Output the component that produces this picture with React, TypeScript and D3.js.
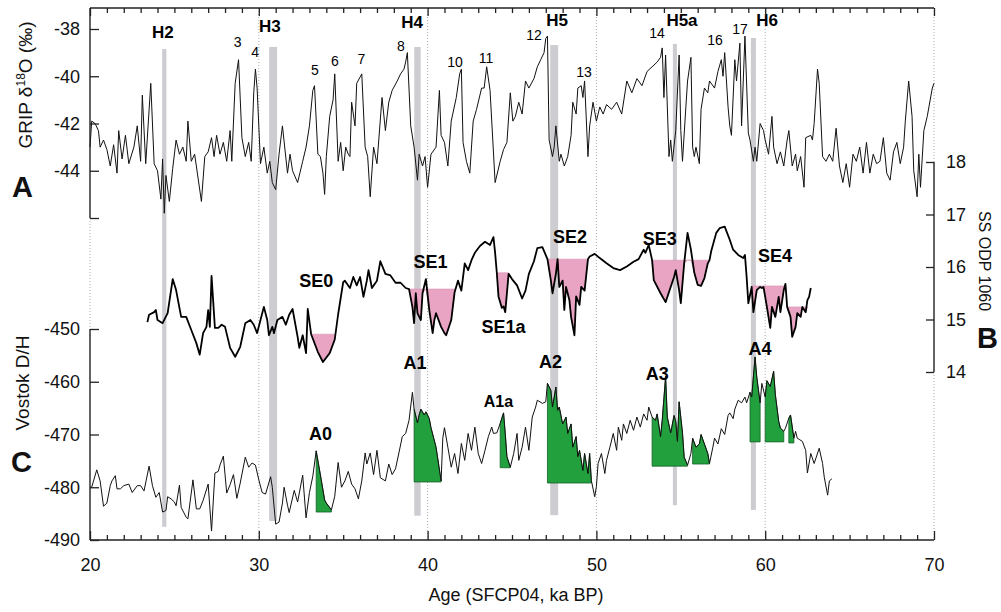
import React, { useEffect, useRef } from 'react';
import * as d3 from 'd3';

// GRIP d18O (permil) against age (ka BP)
const grip: [number, number][] = [
  [20.0,-43.0],[20.1,-41.9],[20.3,-42.0],[20.5,-42.3],[20.6,-43.0],[20.8,-42.7],[21.0,-43.1],[21.2,-43.8],[21.4,-42.9],[21.6,-44.1],
  [21.7,-42.3],[21.9,-43.5],[22.1,-42.5],[22.3,-43.7],[22.6,-43.0],[22.8,-42.1],[23.0,-43.6],[23.1,-40.8],[23.3,-43.7],[23.6,-40.3],
  [23.8,-43.7],[24.0,-44.0],[24.2,-45.2],[24.3,-43.5],[24.4,-45.8],[24.5,-44.2],[24.7,-45.3],[24.9,-43.9],[25.1,-42.7],[25.3,-43.3],
  [25.5,-43.0],[25.7,-43.6],[25.8,-41.9],[26.0,-43.6],[26.2,-43.3],[26.6,-45.3],[26.8,-43.4],[27.0,-43.2],[27.2,-42.6],[27.35,-43.4],
  [27.5,-42.5],[27.7,-43.3],[27.9,-42.8],[28.1,-43.6],[28.3,-42.3],[28.4,-43.6],[28.6,-40.3],[28.8,-39.3],[29.0,-42.6],[29.2,-43.4],
  [29.4,-42.8],[29.55,-43.6],[29.7,-40.7],[29.8,-39.7],[29.9,-40.5],[30.1,-43.7],[30.3,-43.0],[30.5,-44.1],[30.65,-43.6],[30.8,-44.5],
  [31.0,-44.8],[31.2,-43.3],[31.4,-42.1],[31.7,-44.1],[31.85,-43.3],[32.0,-44.0],[32.3,-44.5],[32.6,-43.6],[32.8,-43.0],[33.0,-42.1],
  [33.2,-40.6],[33.3,-40.4],[33.5,-43.3],[33.65,-43.4],[33.8,-44.1],[33.9,-45.0],[34.0,-43.4],[34.2,-41.7],[34.4,-41.0],[34.5,-39.9],
  [34.7,-43.6],[34.85,-42.8],[35.0,-44.0],[35.15,-43.0],[35.3,-43.3],[35.4,-43.4],[35.5,-41.1],[35.7,-42.1],[35.8,-40.3],[36.1,-39.9],
  [36.3,-43.0],[36.45,-43.4],[36.6,-45.1],[36.8,-43.0],[37.0,-43.7],[37.3,-40.9],[37.5,-42.3],[37.7,-41.1],[37.9,-40.6],[38.2,-40.2],
  [38.4,-39.9],[38.6,-39.7],[38.7,-39.4],[38.8,-39.0],[39.0,-42.1],[39.2,-43.0],[39.4,-44.4],[39.5,-43.3],[39.7,-43.8],[39.85,-43.4],
  [40.0,-44.7],[40.2,-43.3],[40.5,-43.0],[40.7,-40.6],[40.8,-42.5],[41.0,-42.8],[41.2,-43.8],[41.4,-41.9],[41.7,-40.9],[41.9,-39.9],
  [42.0,-39.7],[42.1,-42.8],[42.3,-43.6],[42.5,-44.1],[42.7,-41.9],[42.9,-41.4],[43.2,-40.5],[43.35,-40.5],[43.5,-39.6],[43.7,-40.6],
  [44.0,-44.5],[44.3,-43.6],[44.5,-43.1],[44.7,-42.8],[44.9,-40.7],[45.05,-41.9],[45.2,-41.7],[45.4,-41.1],[45.6,-41.6],[45.8,-40.2],
  [46.0,-40.5],[46.3,-40.1],[46.5,-39.6],[46.7,-39.3],[46.9,-39.0],[47.0,-38.4],[47.1,-38.3],[47.2,-42.7],[47.4,-43.4],[47.5,-43.0],
  [47.6,-42.1],[47.8,-43.6],[47.9,-43.3],[48.1,-43.8],[48.3,-43.4],[48.5,-42.5],[48.6,-41.1],[48.8,-41.6],[48.9,-40.5],[49.1,-40.4],
  [49.2,-40.9],[49.3,-40.2],[49.5,-43.4],[49.6,-42.1],[49.8,-41.1],[50.0,-41.9],[50.2,-41.3],[50.4,-41.6],[50.6,-41.2],[50.9,-41.4],
  [51.2,-41.1],[51.5,-41.6],[51.8,-40.2],[52.1,-40.7],[52.4,-40.1],[52.7,-40.4],[53.0,-39.8],[53.3,-39.6],[53.6,-39.4],[53.8,-39.2],
  [53.9,-38.8],[54.0,-40.9],[54.1,-39.1],[54.3,-43.4],[54.4,-42.7],[54.5,-43.6],[54.7,-42.3],[54.9,-39.1],[55.0,-42.3],[55.1,-43.6],
  [55.3,-41.3],[55.4,-40.2],[55.6,-39.2],[55.7,-43.0],[55.8,-43.4],[55.9,-43.0],[56.1,-43.7],[56.2,-41.4],[56.4,-40.5],[56.6,-40.7],
  [56.7,-40.2],[57.0,-40.5],[57.2,-39.8],[57.4,-39.3],[57.5,-40.0],[57.6,-39.0],[57.8,-41.3],[57.9,-42.1],[58.0,-42.5],[58.2,-39.3],
  [58.3,-40.2],[58.5,-38.6],[58.6,-42.1],[58.8,-38.3],[59.0,-42.4],[59.1,-42.7],[59.3,-43.6],[59.4,-43.0],[59.5,-43.6],[59.7,-42.0],
  [59.9,-42.3],[60.0,-42.7],[60.2,-43.3],[60.4,-41.7],[60.5,-43.0],[60.7,-43.7],[60.9,-43.2],[61.1,-43.8],[61.3,-42.7],[61.4,-42.3],
  [61.6,-43.8],[61.8,-43.3],[61.9,-44.0],[62.1,-43.4],[62.3,-44.7],[62.4,-42.6],[62.7,-42.5],[62.8,-42.7],[62.9,-42.0],[63.1,-39.7],
  [63.2,-40.3],[63.4,-43.4],[63.6,-43.6],[63.8,-43.3],[64.0,-43.6],[64.2,-42.2],[64.4,-43.8],[64.6,-44.5],[64.8,-43.7],[65.0,-44.7],
  [65.2,-43.3],[65.4,-43.6],[65.6,-43.0],[65.8,-44.1],[66.0,-42.8],[66.2,-44.1],[66.4,-43.3],[66.6,-43.7],[66.8,-43.6],[67.0,-42.6],
  [67.2,-44.1],[67.4,-44.4],[67.6,-43.2],[67.8,-42.8],[68.0,-43.7],[68.2,-43.0],[68.3,-41.9],[68.5,-40.2],[68.7,-41.7],[68.8,-44.0],
  [69.0,-45.1],[69.1,-43.3],[69.2,-44.7],[69.4,-42.3],[69.6,-41.7],[69.7,-41.3],[69.9,-40.5],[70.0,-40.3],
];

// SS ODP 1060 (panel B, right axis)
const ssOdp: [number, number][] = [
  [23.4,14.95],[23.5,15.09],[23.8,15.14],[23.9,15.18],[24.0,14.99],[24.3,14.93],[24.6,15.12],[24.9,15.77],[25.1,15.56],[25.4,15.05],
  [25.7,15.05],[26.0,14.8],[26.3,14.55],[26.5,14.33],[26.7,14.74],[26.9,14.86],[27.0,15.18],[27.1,14.86],[27.2,15.83],[27.4,14.84],
  [27.6,14.84],[27.8,14.9],[28.0,14.86],[28.3,14.46],[28.6,14.29],[28.9,14.48],[29.2,14.93],[29.5,14.99],[29.7,14.9],[29.9,14.74],
  [30.1,14.99],[30.3,15.24],[30.5,14.99],[30.6,14.7],[30.8,14.86],[30.9,14.74],[31.1,14.99],[31.4,15.05],[31.6,14.9],[31.8,15.09],
  [32.0,15.2],[32.3,14.67],[32.4,14.46],[32.6,14.7],[32.8,14.36],[32.9,15.2],[33.1,14.72],[33.5,14.38],[33.8,14.19],[34.2,14.36],
  [34.5,14.62],[34.7,15.1],[35.0,15.71],[35.1,15.74],[35.4,15.6],[35.6,15.81],[35.8,15.65],[36.0,15.81],[36.2,15.43],[36.4,15.74],
  [36.5,15.94],[36.7,15.6],[37.0,15.74],[37.2,16.11],[37.5,15.87],[37.8,15.84],[38.1,15.7],[38.4,15.7],[38.7,15.6],[38.9,15.58],
  [39.1,15.24],[39.2,14.93],[39.3,15.5],[39.4,15.12],[39.6,14.99],[39.7,15.5],[39.9,15.77],[40.1,15.18],[40.3,14.74],[40.4,14.99],
  [40.5,15.12],[40.8,14.86],[41.0,14.74],[41.1,14.7],[41.4,14.99],[41.6,15.52],[41.8,15.74],[42.0,15.55],[42.2,16.07],[42.4,15.94],
  [42.6,16.13],[42.8,16.27],[43.1,16.4],[43.4,16.48],[43.7,16.42],[43.9,16.57],[44.0,16.27],[44.1,15.89],[44.2,15.44],[44.4,15.22],
  [44.5,15.25],[44.6,15.14],[44.8,15.87],[45.0,15.77],[45.3,15.65],[45.6,15.4],[45.8,15.55],[46.0,15.87],[46.3,16.11],[46.5,16.36],
  [46.8,16.38],[47.1,16.15],[47.3,15.75],[47.4,15.5],[47.6,15.87],[47.7,16.15],[47.8,15.62],[48.0,15.74],[48.1,15.18],[48.2,15.62],
  [48.4,15.37],[48.5,15.05],[48.7,14.7],[48.8,15.44],[49.0,15.28],[49.1,15.62],[49.3,15.55],[49.5,16.15],[49.6,16.2],[49.9,16.25],
  [50.2,16.17],[50.6,16.07],[51.0,15.98],[51.4,15.94],[51.8,16.01],[52.2,16.1],[52.5,16.15],[52.8,16.33],[52.9,16.27],[53.1,16.42],
  [53.3,16.13],[53.4,15.75],[53.8,15.5],[54.1,15.33],[54.4,15.62],[54.6,15.81],[54.7,15.94],[54.9,15.56],[55.0,15.31],[55.2,16.07],
  [55.4,16.65],[55.6,16.33],[55.8,15.89],[56.0,15.66],[56.2,15.64],[56.4,15.79],[56.6,16.07],[56.7,16.13],[56.8,16.3],[57.1,16.65],
  [57.3,16.74],[57.6,16.77],[57.9,16.52],[58.1,16.33],[58.4,16.23],[58.7,16.17],[58.8,16.23],[58.9,15.81],[59.0,15.31],[59.2,15.62],
  [59.3,15.14],[59.5,15.56],[59.7,15.62],[59.8,15.6],[59.9,15.62],[60.1,15.24],[60.3,14.84],[60.4,15.24],[60.6,15.05],[60.8,15.43],
  [60.9,15.14],[61.1,15.56],[61.2,15.68],[61.3,15.24],[61.5,15.05],[61.6,14.67],[61.8,14.86],[61.9,15.12],[62.1,15.05],[62.2,15.24],
  [62.4,15.14],[62.5,15.37],[62.6,15.43],[62.7,15.6],
];

// Vostok D/H (panel C)
const vostok: [number, number][] = [
  [20.0,-480.0],[20.1,-480.0],[20.4,-476.7],[20.6,-478.8],[20.8,-483.6],[21.0,-483.0],[21.2,-479.7],[21.3,-478.8],[21.5,-477.8],[21.6,-480.3],
  [21.8,-480.3],[22.0,-479.7],[22.3,-479.4],[22.5,-481.0],[22.8,-479.7],[23.0,-479.7],[23.2,-480.7],[23.5,-476.0],[23.7,-479.7],[23.9,-481.9],
  [24.1,-481.0],[24.3,-484.7],[24.5,-484.4],[24.6,-481.8],[24.8,-482.2],[25.0,-482.8],[25.1,-483.5],[25.3,-479.6],[25.4,-483.8],[25.7,-485.7],
  [25.8,-486.0],[26.1,-478.6],[26.3,-484.1],[26.5,-484.1],[26.7,-482.5],[27.0,-479.4],[27.2,-488.3],[27.4,-477.3],[27.6,-477.0],[27.7,-475.8],
  [27.9,-474.1],[28.1,-481.1],[28.3,-479.5],[28.5,-477.6],[28.7,-482.1],[28.9,-479.2],[29.2,-474.3],[29.4,-476.2],[29.6,-475.4],[29.8,-475.8],
  [30.0,-478.6],[30.2,-481.0],[30.4,-481.3],[30.7,-478.0],[30.8,-480.0],[31.0,-487.0],[31.2,-486.6],[31.4,-483.0],[31.5,-480.0],[31.7,-483.4],
  [31.8,-484.8],[32.1,-480.6],[32.3,-482.8],[32.6,-477.7],[32.8,-485.8],[33.0,-481.0],[33.2,-477.9],[33.4,-473.1],[33.7,-478.6],[33.9,-482.4],
  [34.0,-483.0],[34.3,-484.3],[34.5,-481.7],[34.7,-475.3],[34.9,-480.0],[35.1,-478.8],[35.3,-477.0],[35.5,-479.4],[35.7,-480.3],[35.9,-482.2],
  [36.1,-478.8],[36.3,-473.5],[36.4,-475.6],[36.6,-473.5],[36.8,-477.6],[37.0,-473.0],[37.2,-478.2],[37.5,-478.8],[37.7,-475.6],[37.9,-477.6],
  [38.1,-476.5],[38.3,-473.5],[38.5,-470.4],[38.7,-469.8],[38.9,-467.3],[39.1,-462.0],[39.2,-465.2],[39.4,-467.8],[39.5,-466.3],[39.6,-465.2],
  [39.8,-466.3],[39.9,-465.7],[40.1,-467.0],[40.2,-468.7],[40.5,-472.4],[40.8,-478.8],[40.9,-470.7],[41.0,-468.7],[41.2,-472.4],[41.4,-476.2],
  [41.6,-473.6],[41.8,-477.4],[42.0,-471.7],[42.2,-474.9],[42.4,-469.8],[42.6,-473.0],[42.8,-468.6],[43.0,-473.6],[43.2,-475.5],[43.4,-473.0],
  [43.6,-470.4],[43.8,-468.6],[43.9,-469.8],[44.1,-469.7],[44.3,-467.9],[44.5,-465.9],[44.6,-469.8],[44.7,-474.2],[44.9,-476.2],[45.1,-473.6],
  [45.3,-469.8],[45.4,-474.9],[45.6,-472.4],[45.8,-468.6],[46.0,-473.0],[46.2,-466.7],[46.4,-464.8],[46.5,-463.5],[46.8,-464.1],[47.0,-463.8],
  [47.1,-460.3],[47.3,-461.6],[47.4,-464.8],[47.6,-461.0],[47.7,-465.4],[47.8,-464.8],[48.0,-468.0],[48.2,-466.7],[48.3,-469.8],[48.5,-468.0],
  [48.6,-472.4],[48.8,-470.4],[48.9,-474.2],[49.0,-473.0],[49.2,-476.8],[49.3,-473.6],[49.5,-477.4],[49.6,-473.6],[49.7,-478.7],[49.9,-481.8],
  [50.0,-479.9],[50.1,-475.5],[50.3,-473.6],[50.5,-477.4],[50.6,-474.9],[50.8,-472.4],[51.0,-469.8],[51.2,-473.0],[51.3,-468.6],[51.5,-471.1],
  [51.6,-468.0],[51.8,-469.8],[52.0,-467.3],[52.2,-469.2],[52.4,-466.7],[52.6,-468.6],[52.8,-466.1],[53.0,-467.3],[53.1,-464.8],[53.3,-466.7],
  [53.5,-467.3],[53.6,-466.1],[53.8,-470.4],[53.9,-467.3],[54.1,-459.0],[54.2,-466.7],[54.4,-469.7],[54.6,-466.4],[54.7,-467.5],[54.8,-471.3],
  [54.9,-463.8],[55.1,-469.7],[55.2,-474.3],[55.4,-475.8],[55.6,-473.6],[55.7,-470.7],[55.9,-472.4],[56.1,-471.8],[56.2,-470.0],[56.4,-471.8],
  [56.6,-473.6],[56.7,-475.5],[56.9,-472.4],[57.0,-470.7],[57.2,-471.8],[57.4,-468.9],[57.6,-470.0],[57.8,-466.4],[57.9,-465.9],[58.1,-467.0],
  [58.2,-465.2],[58.4,-463.5],[58.6,-464.0],[58.8,-462.9],[58.9,-464.0],[59.1,-462.0],[59.2,-462.9],[59.4,-455.3],[59.5,-459.1],[59.7,-464.0],
  [59.8,-460.3],[60.0,-462.9],[60.1,-459.8],[60.3,-460.9],[60.5,-458.0],[60.6,-462.4],[60.8,-467.5],[60.9,-468.8],[61.1,-469.4],[61.2,-468.8],
  [61.4,-466.9],[61.5,-466.3],[61.7,-470.7],[61.8,-469.4],[61.9,-470.7],[62.05,-471.0],[62.2,-471.3],[62.4,-473.0],[62.5,-477.3],[62.7,-473.6],
  [62.9,-475.5],[63.2,-472.6],[63.4,-475.5],[63.5,-478.1],[63.7,-481.5],[63.8,-478.8],[63.95,-478.4],
];

// Heinrich events (grey bands)
const heinrichName = ['H2', 'H3', 'H4', 'H5', 'H5a', 'H6'];
const heinrichAge = [24.4, 30.85, 39.4, 47.5, 54.65, 59.3];
const heinrichSpan = [0.25, 0.47, 0.38, 0.47, 0.24, 0.3];
const heinrichTop = [-38.85, -38.76, -38.76, -38.68, -38.63, -38.38]; // GRIP units
const heinrichBottom = [-487.5, -486.4, -485.4, -485.3, -483.4, -484.3]; // Vostok units
const heinrichLabelAge = [24.32, 30.66, 39.08, 47.67, 55.07, 60.11];
const heinrichLabelVal = [-38.38, -38.13, -37.96, -37.87, -37.87, -37.87];

// Dansgaard-Oeschger numbers
const doName = ['3', '4', '5', '6', '7', '8', '10', '11', '12', '13', '14', '16', '17'];
const doAge = [28.74, 29.78, 33.33, 34.51, 36.08, 38.42, 41.62, 43.46, 46.3, 49.27, 53.59, 57.03, 58.51];
const doVal = [-38.76, -39.19, -39.95, -39.57, -39.48, -38.93, -39.61, -39.44, -38.47, -40.03, -38.38, -38.68, -38.21];

// SE intervals (pink, panel B): start, end, level
const seStart = [33.1, 38.9, 44.1, 47.1, 53.3, 59.2, 61.3];
const seEnd = [34.5, 41.6, 44.8, 49.5, 56.7, 61.2, 62.5];
const seLevel = [14.72, 15.58, 15.89, 16.15, 16.13, 15.64, 15.24];
const seName = ['SE0', 'SE1', 'SE1a', 'SE2', 'SE3', 'SE4'];
const seLabelAge = [33.41, 40.17, 44.5, 48.44, 53.75, 60.58];
const seLabelVal = [15.62, 15.98, 14.74, 16.46, 16.42, 16.1];

// Antarctic warmings (green, panel C): start, end, base
const aStart = [33.4, 39.2, 44.3, 47.1, 53.3, 55.7, 59.1, 60.0, 61.4];
const aEnd = [34.3, 40.8, 44.9, 49.7, 55.4, 56.7, 59.7, 61.1, 61.7];
const aBase = [-484.7, -479.0, -476.3, -479.2, -476.0, -475.6, -471.4, -471.4, -471.6];
const aName = ['A0', 'A1', 'A1a', 'A2', 'A3', 'A4'];
const aLabelAge = [33.65, 39.25, 44.2, 47.28, 53.6, 59.69];
const aLabelVal = [-471.0, -457.6, -464.8, -457.4, -459.6, -454.9];

const gripTicks = [-38, -40, -42, -44, -46];
const ssTicks = [18, 17, 16, 15, 14];
const vostokTicks = [-450, -460, -470, -480, -490];
const ageTicks = [20, 30, 40, 50, 60, 70];

const FONT = 'Liberation Sans, Arial, Helvetica, sans-serif';

export default function App() {
  const ref = useRef<SVGSVGElement>(null);

  useEffect(() => {
    const svg = d3.select(ref.current);
    svg.selectAll('*').remove();
    svg.attr('font-family', FONT);

    const x = d3.scaleLinear().domain([20, 70]).range([90, 934]);
    const yA = d3.scaleLinear().domain([-46, -38]).range([218, 29]);
    const yB = d3.scaleLinear().domain([14, 18]).range([372, 162]);
    const yC = d3.scaleLinear().domain([-490, -450]).range([540, 329]);
    const top = yA(-37.11);
    const bottom = yC(-490);

    // dotted gridlines
    const grid = svg.append('g').attr('stroke', '#a8a8a8').attr('stroke-width', 1).attr('stroke-dasharray', '1,2');
    ageTicks.forEach((a) => {
      const segs: [number, number][] = a === 20
        ? [[yA(-46), yC(-450)]]
        : a === 70 ? [[top, yB(18)], [yB(14), bottom]] : [[top, bottom]];
      segs.forEach(([y1, y2]) => {
        grid.append('line').attr('x1', x(a)).attr('x2', x(a)).attr('y1', y1).attr('y2', y2);
      });
    });

    // Heinrich bands
    heinrichName.forEach((h, i) => {
      svg.append('rect')
        .attr('x', x(heinrichAge[i] - heinrichSpan[i] / 2))
        .attr('width', x(heinrichAge[i] + heinrichSpan[i] / 2) - x(heinrichAge[i] - heinrichSpan[i] / 2))
        .attr('y', yA(heinrichTop[i]))
        .attr('height', yC(heinrichBottom[i]) - yA(heinrichTop[i]))
        .attr('fill', '#cdcdd1');
      svg.append('text')
        .attr('x', x(heinrichLabelAge[i])).attr('y', yA(heinrichLabelVal[i]))
        .attr('text-anchor', 'middle').attr('font-size', 17).attr('font-weight', 'bold')
        .text(h);
    });

    // pink SE fills
    seStart.forEach((s, i) => {
      const pts = ssOdp.filter((d) => d[0] >= s && d[0] <= seEnd[i]);
      const area = d3.area<[number, number]>()
        .x((d) => x(d[0]))
        .y0(yB(seLevel[i]))
        .y1((d) => yB(Math.min(d[1], seLevel[i])));
      svg.append('path').attr('d', area(pts)).attr('fill', '#e8a4c2')
        .attr('stroke', '#d792b2').attr('stroke-width', 0.6);
    });

    // green A fills
    aStart.forEach((s, i) => {
      const pts = vostok.filter((d) => d[0] >= s && d[0] <= aEnd[i]);
      const area = d3.area<[number, number]>()
        .x((d) => x(d[0]))
        .y0(yC(aBase[i]))
        .y1((d) => yC(Math.max(d[1], aBase[i])));
      svg.append('path').attr('d', area(pts)).attr('fill', '#22a03e')
        .attr('stroke', '#16602a').attr('stroke-width', 0.8);
    });

    const line = (ys: d3.ScaleLinear<number, number>) => d3.line<[number, number]>()
      .x((d) => x(d[0])).y((d) => ys(d[1]));

    svg.append('path').attr('d', line(yA)(grip)).attr('fill', 'none')
      .attr('stroke', '#111').attr('stroke-width', 1).attr('stroke-linejoin', 'round');
    svg.append('path').attr('d', line(yB)(ssOdp)).attr('fill', 'none')
      .attr('stroke', '#000').attr('stroke-width', 1.8).attr('stroke-linejoin', 'round');
    svg.append('path').attr('d', line(yC)(vostok)).attr('fill', 'none')
      .attr('stroke', '#111').attr('stroke-width', 1).attr('stroke-linejoin', 'round');

    // DO numbers
    doName.forEach((n, i) => {
      svg.append('text').attr('x', x(doAge[i])).attr('y', yA(doVal[i]))
        .attr('text-anchor', 'middle').attr('font-size', 14).text(n);
    });

    // SE labels
    seName.forEach((n, i) => {
      svg.append('text').attr('x', x(seLabelAge[i])).attr('y', yB(seLabelVal[i]))
        .attr('text-anchor', 'middle').attr('font-size', 18).attr('font-weight', 'bold').text(n);
    });

    // A labels
    aName.forEach((n, i) => {
      svg.append('text').attr('x', x(aLabelAge[i])).attr('y', yC(aLabelVal[i]))
        .attr('text-anchor', 'middle').attr('font-size', n === 'A1a' ? 16 : 18)
        .attr('font-weight', 'bold').text(n);
    });

    // axes
    const axisStyle = (g: d3.Selection<SVGGElement, unknown, null, undefined>) => {
      g.select('.domain').remove();
      g.selectAll('line').attr('stroke', '#222').attr('stroke-width', 1.3);
      g.selectAll('text').attr('font-size', 18).attr('font-family', FONT).attr('fill', '#111');
    };
    const minor = d3.range(21, 70).filter((a) => a % 10 !== 0);

    // top axis
    svg.append('line').attr('x1', x(20)).attr('x2', x(70)).attr('y1', top).attr('y2', top)
      .attr('stroke', '#222').attr('stroke-width', 1.4);
    svg.append('g').attr('transform', `translate(0,${top})`)
      .call(d3.axisTop(x).tickValues(minor).tickSize(-5).tickFormat(() => '')).call(axisStyle);
    svg.append('g').attr('transform', `translate(0,${top})`)
      .call(d3.axisTop(x).tickValues(ageTicks).tickSize(-8).tickFormat(() => '')).call(axisStyle);

    // bottom axis
    svg.append('line').attr('x1', x(20)).attr('x2', x(70)).attr('y1', bottom).attr('y2', bottom)
      .attr('stroke', '#222').attr('stroke-width', 1.4);
    svg.append('g').attr('transform', `translate(0,${bottom})`)
      .call(d3.axisBottom(x).tickValues(minor).tickSize(-5).tickFormat(() => '')).call(axisStyle);
    svg.append('g').attr('transform', `translate(0,${bottom})`)
      .call(d3.axisBottom(x).tickValues(ageTicks).tickSize(-9).tickPadding(18).tickFormat(d3.format('d'))).call(axisStyle);

    // left A axis
    svg.append('line').attr('x1', x(20)).attr('x2', x(20)).attr('y1', top).attr('y2', yA(-46))
      .attr('stroke', '#222').attr('stroke-width', 1.4);
    svg.append('g').attr('transform', `translate(${x(20)},0)`)
      .call(d3.axisLeft(yA).tickValues(gripTicks).tickSize(-9).tickPadding(10)
        .tickFormat((d) => (d === -46 ? '' : String(d)))).call(axisStyle);

    // left C axis
    svg.append('line').attr('x1', x(20)).attr('x2', x(20)).attr('y1', yC(-450)).attr('y2', bottom)
      .attr('stroke', '#222').attr('stroke-width', 1.4);
    svg.append('g').attr('transform', `translate(${x(20)},0)`)
      .call(d3.axisLeft(yC).tickValues(vostokTicks).tickSize(-9).tickPadding(10)
        .tickFormat((d) => String(d))).call(axisStyle);

    // right B axis
    svg.append('line').attr('x1', x(70)).attr('x2', x(70)).attr('y1', yB(18)).attr('y2', yB(14))
      .attr('stroke', '#222').attr('stroke-width', 1.4);
    svg.append('g').attr('transform', `translate(${x(70)},0)`)
      .call(d3.axisRight(yB).tickValues(ssTicks).tickSize(-8).tickPadding(12)
        .tickFormat((d) => String(d))).call(axisStyle);

    // axis titles
    const gripLabel = svg.append('text').attr('transform', `translate(32,85) rotate(-90)`)
      .attr('text-anchor', 'middle').attr('font-size', 19).attr('fill', '#111');
    gripLabel.append('tspan').text('GRIP δ');
    gripLabel.append('tspan').attr('font-size', 12).attr('dy', -7).text('18');
    gripLabel.append('tspan').attr('dy', 7).text('O (‰)');

    svg.append('text').attr('transform', `translate(29,383) rotate(-90)`)
      .attr('text-anchor', 'middle').attr('font-size', 19).attr('fill', '#111').text('Vostok D/H');
    svg.append('text').attr('transform', `translate(979,261) rotate(90)`)
      .attr('text-anchor', 'middle').attr('font-size', 16).attr('fill', '#111').text('SS ODP 1060');
    svg.append('text').attr('x', 516).attr('y', 601)
      .attr('text-anchor', 'middle').attr('font-size', 18).attr('fill', '#111').text('Age (SFCP04, ka BP)');

    // panel letters
    [['A', 12, 197], ['B', 977, 348], ['C', 11, 472]].forEach(([t, px, py]) => {
      svg.append('text').attr('x', px as number).attr('y', py as number)
        .attr('font-size', 29).attr('font-weight', 'bold').attr('fill', '#111').text(t as string);
    });
  }, []);

  return (
    <svg ref={ref} width={1001} height={612}
      style={{ position: 'absolute', left: 0, top: 0, background: '#fff' }} />
  );
}
